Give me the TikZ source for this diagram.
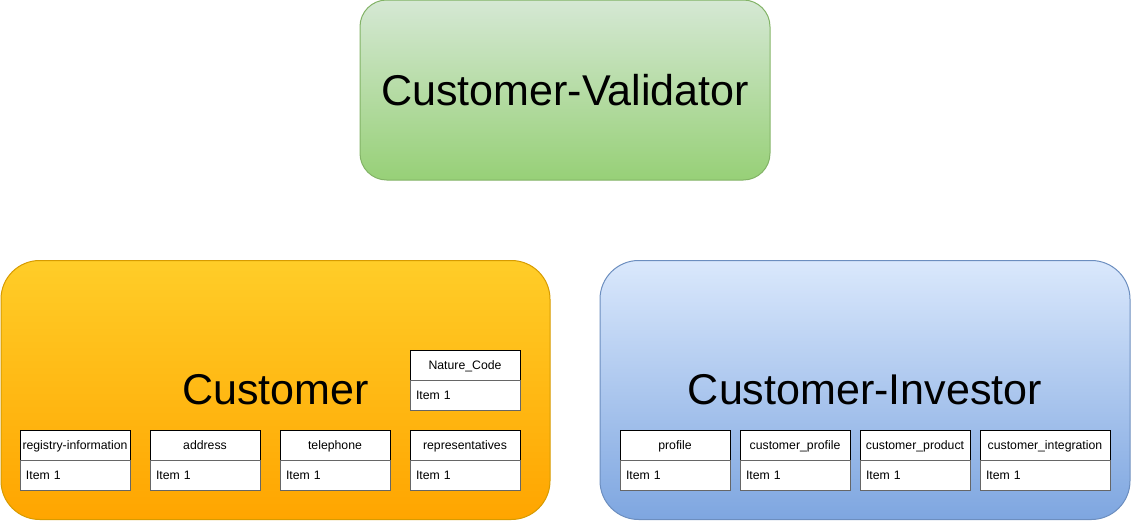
\documentclass[tikz,border=0pt]{standalone}
\usepackage{fontspec}
\setmainfont{Liberation Sans}

\definecolor{valtop}{HTML}{D5E8D4}
\definecolor{valbot}{HTML}{97D077}
\definecolor{valline}{HTML}{82B366}
\definecolor{custtop}{HTML}{FFCD28}
\definecolor{custbot}{HTML}{FFA500}
\definecolor{custline}{HTML}{D79B00}
\definecolor{invtop}{HTML}{DAE8FC}
\definecolor{invbot}{HTML}{7EA6E0}
\definecolor{invline}{HTML}{6C8EBF}
\definecolor{itemline}{HTML}{666666}

\begin{document}
\begin{tikzpicture}[x=0.75pt,y=0.75pt,yscale=-1,xscale=1,
  group/.style={draw, line width=0.75pt, inner sep=0pt, font=\fontsize{32.3}{38}\selectfont},
  tabhead/.style={draw=black, fill=white, line width=0.75pt, minimum width=82.5pt, minimum height=22.5pt, inner sep=0pt, text depth=0.5pt, font=\fontsize{9.2}{11}\selectfont},
  tabitem/.style={draw=itemline, fill=white, line width=0.75pt, text width=73.5pt, inner xsep=4.5pt, inner ysep=0pt, minimum height=22.5pt, align=left, font=\fontsize{9.2}{11}\selectfont}]
\useasboundingbox (0,0) rectangle (1131,521);

% Group Boxes
\draw (565,90) node [group, draw=valline, top color=valtop, bottom color=valbot, rounded corners=20pt, minimum width=307.5pt, minimum height=135pt] (validator) {Customer-Validator};
\draw (275.5,390) node [group, draw=custline, top color=custtop, bottom color=custbot, rounded corners=29pt, minimum width=411.75pt, minimum height=194.25pt] (customer) {Customer};
\draw (865,390) node [group, draw=invline, top color=invtop, bottom color=invbot, rounded corners=29pt, minimum width=397.5pt, minimum height=194.25pt] (investor) {Customer-Investor};

% Customer Tables
\draw (75,445) node [tabhead] (registry) {registry-information};
\draw (75,475) node [tabitem] (registryitem) {Item 1};
\draw (205,445) node [tabhead] (address) {address};
\draw (205,475) node [tabitem] (addressitem) {Item 1};
\draw (335,445) node [tabhead] (telephone) {telephone};
\draw (335,475) node [tabitem] (telephoneitem) {Item 1};
\draw (465,445) node [tabhead] (represent) {representatives};
\draw (465,475) node [tabitem] (representitem) {Item 1};
\draw (465,365) node [tabhead] (nature) {Nature\_Code};
\draw (465,395) node [tabitem] (natureitem) {Item 1};

% Investor Tables
\draw (675,445) node [tabhead] (profile) {profile};
\draw (675,475) node [tabitem] (profileitem) {Item 1};
\draw (795,445) node [tabhead] (custprofile) {customer\_profile};
\draw (795,475) node [tabitem] (custprofileitem) {Item 1};
\draw (915,445) node [tabhead] (custproduct) {customer\_product};
\draw (915,475) node [tabitem] (custproductitem) {Item 1};
\draw (1045,445) node [tabhead, minimum width=97.5pt] (custinteg) {customer\_integration};
\draw (1045,475) node [tabitem, text width=88.5pt] (custintegitem) {Item 1};

\end{tikzpicture}
\end{document}
